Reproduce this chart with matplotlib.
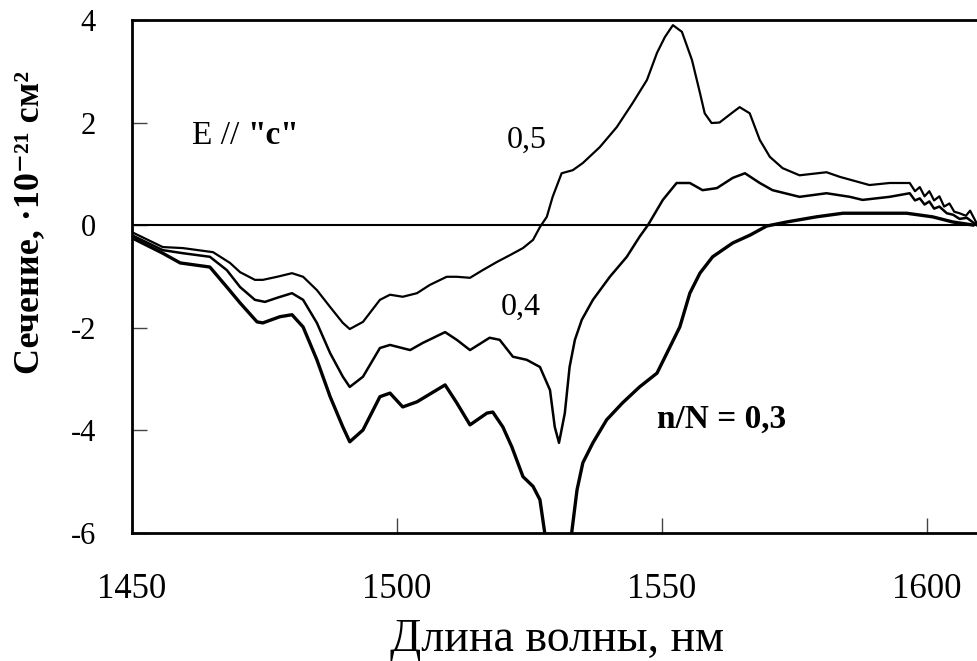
import matplotlib
matplotlib.use("Agg")
import matplotlib.pyplot as plt

# spectra for three inversion levels n/N, wavelength in nm, cross-section in 1e-21 cm^2
wl_05 = [1450.0, 1455.8, 1459.6, 1465.3, 1468.5, 1470.4, 1473.2, 1474.7, 1477.4, 1480.2,
         1482.3, 1484.9, 1487.4, 1489.8, 1491.1, 1493.6, 1496.8, 1498.7, 1501.1, 1503.8,
         1506.2, 1509.4, 1511.3, 1513.8, 1516.2, 1518.9, 1521.3, 1523.8, 1525.7, 1527.0,
         1528.3, 1529.4, 1531.1, 1533.2, 1535.1, 1538.3, 1541.5, 1544.5, 1547.2, 1549.1,
         1550.6, 1552.1, 1553.8, 1555.7, 1557.2, 1558.1, 1559.4, 1560.9, 1563.4, 1564.7,
         1566.6, 1568.5, 1570.4, 1572.8, 1576.0, 1581.1, 1583.6, 1589.2, 1593.0, 1596.8,
         1597.8, 1598.7, 1599.6, 1600.5, 1601.4, 1602.4, 1603.3, 1604.3, 1605.2, 1606.2,
         1607.4, 1608.2, 1609.4]
cs_05 = [-0.14, -0.43, -0.45, -0.53, -0.74, -0.92, -1.07, -1.07, -1.01, -0.94,
         -1.01, -1.27, -1.60, -1.91, -2.03, -1.89, -1.46, -1.36, -1.40, -1.33,
         -1.17, -1.01, -1.01, -1.03, -0.88, -0.72, -0.59, -0.45, -0.29, -0.04,
         0.16, 0.55, 1.01, 1.07, 1.21, 1.52, 1.91, 2.38, 2.83, 3.36,
         3.67, 3.90, 3.77, 3.22, 2.58, 2.18, 1.99, 2.00, 2.20, 2.30,
         2.18, 1.66, 1.33, 1.11, 0.97, 1.03, 0.94, 0.78, 0.82, 0.82,
         0.66, 0.74, 0.56, 0.66, 0.48, 0.56, 0.36, 0.42, 0.26, 0.23,
         0.18, 0.28, 0.04]

wl_04 = [1450.0, 1455.8, 1459.6, 1464.7, 1467.9, 1470.4, 1473.2, 1475.1, 1477.4, 1480.2,
         1482.3, 1484.9, 1487.4, 1489.8, 1491.1, 1493.6, 1496.8, 1498.7, 1502.5, 1504.9,
         1509.1, 1511.3, 1513.8, 1517.5, 1519.4, 1521.9, 1524.5, 1527.0, 1528.9, 1529.8,
         1530.6, 1531.7, 1532.6, 1533.6, 1534.9, 1537.0, 1540.2, 1543.4, 1545.8, 1547.4,
         1550.2, 1552.8, 1555.3, 1557.7, 1560.4, 1563.4, 1565.7, 1568.5, 1570.9, 1576.0,
         1581.1, 1585.5, 1587.9, 1593.0, 1596.8, 1597.8, 1598.7, 1599.6, 1600.5, 1601.4,
         1602.4, 1603.8, 1605.0, 1606.2, 1607.6, 1609.4]
cs_04 = [-0.20, -0.49, -0.55, -0.62, -0.88, -1.21, -1.46, -1.50, -1.42, -1.33,
         -1.46, -1.91, -2.50, -2.96, -3.16, -2.96, -2.40, -2.34, -2.44, -2.30,
         -2.09, -2.24, -2.44, -2.20, -2.24, -2.57, -2.63, -2.77, -3.22, -3.94,
         -4.25, -3.67, -2.77, -2.24, -1.85, -1.46, -1.01, -0.62, -0.23, 0.00,
         0.49, 0.82, 0.82, 0.68, 0.72, 0.92, 1.01, 0.82, 0.68, 0.55,
         0.62, 0.55, 0.49, 0.55, 0.62, 0.48, 0.52, 0.40, 0.46, 0.32,
         0.36, 0.23, 0.20, 0.12, 0.14, 0.00]

wl_03 = [1450.0, 1455.8, 1459.1, 1464.7, 1467.9, 1470.4, 1473.6, 1474.7, 1477.9, 1480.2,
         1482.3, 1484.9, 1487.4, 1489.8, 1491.1, 1493.6, 1496.8, 1498.7, 1501.1, 1503.8,
         1509.1, 1511.3, 1513.8, 1517.0, 1518.1, 1520.0, 1521.7, 1523.8, 1525.7, 1527.0,
         1527.9, 1530.4, 1533.0, 1534.0, 1535.1, 1537.0, 1539.6, 1542.6, 1545.8, 1549.1,
         1553.4, 1555.3, 1557.2, 1559.6, 1563.4, 1566.6, 1569.8, 1573.6, 1579.2, 1584.2,
         1591.7, 1596.2, 1601.1, 1604.9, 1608.7]
cs_03 = [-0.25, -0.55, -0.74, -0.82, -1.21, -1.52, -1.89, -1.91, -1.79, -1.75,
         -1.99, -2.63, -3.35, -3.94, -4.23, -4.00, -3.35, -3.28, -3.55, -3.45,
         -3.12, -3.47, -3.90, -3.67, -3.65, -3.94, -4.33, -4.91, -5.10, -5.36,
         -6.00, -7.20, -6.00, -5.17, -4.64, -4.25, -3.80, -3.47, -3.16, -2.89,
         -1.99, -1.33, -0.94, -0.62, -0.35, -0.20, -0.02, 0.06, 0.16, 0.23,
         0.23, 0.23, 0.16, 0.06, 0.00]

x_ticks = [1450, 1500, 1550, 1600]
y_ticks = [-6, -4, -2, 0, 2, 4]

plt.rcParams['font.family'] = ['Liberation Serif', 'DejaVu Serif']
plt.rcParams['axes.unicode_minus'] = False

fig = plt.figure(figsize=(9.77, 6.61), dpi=100)
ax = fig.add_axes([0.1351, 0.1944, 0.8649, 0.7753])

ax.plot(wl_05, cs_05, color='black', lw=1.6)
ax.plot(wl_04, cs_04, color='black', lw=1.8)
ax.plot(wl_03, cs_03, color='black', lw=2.4)
ax.axhline(0, color='black', lw=1.5)

ax.set_xlim(1450, 1609.5)
ax.set_ylim(-6, 4)
ax.set_xticks(x_ticks)
ax.set_yticks(y_ticks)
ax.tick_params(direction='in', length=11, width=1.0, color='#444444')
ax.tick_params(axis='x', labelsize=25, pad=29)
ax.tick_params(axis='y', labelsize=22, pad=26)

for side in ('left', 'bottom', 'top'):
    ax.spines[side].set_linewidth(2.0)
ax.spines['right'].set_visible(False)

ax.set_xlabel('Длина волны, нм', fontsize=33)
ax.xaxis.label.set_va('center')
ax.xaxis.set_label_coords(0.503, -0.21)
ax.set_ylabel('Сечение, ·10⁻²¹ см²', fontsize=26, fontweight='bold')
ax.yaxis.label.set_va('center')
ax.yaxis.set_label_coords(-0.121, 0.606)

# curve labels
t = ax.text(1461.3, 1.75, 'E // ', fontsize=24, va='center')
ax.annotate('"c"', xy=(1, 0), xycoords=t, fontsize=24, fontweight='bold',
            va='bottom', ha='left')
ax.text(1524.5, 1.66, '0,5', fontsize=23, va='center', ha='center')
ax.text(1523.4, -1.6, '0,4', fontsize=23, va='center', ha='center')
ax.text(1561.3, -3.8, 'n/N = 0,3', fontsize=24, fontweight='bold', va='center', ha='center')

fig.savefig('out.png', dpi=100)
